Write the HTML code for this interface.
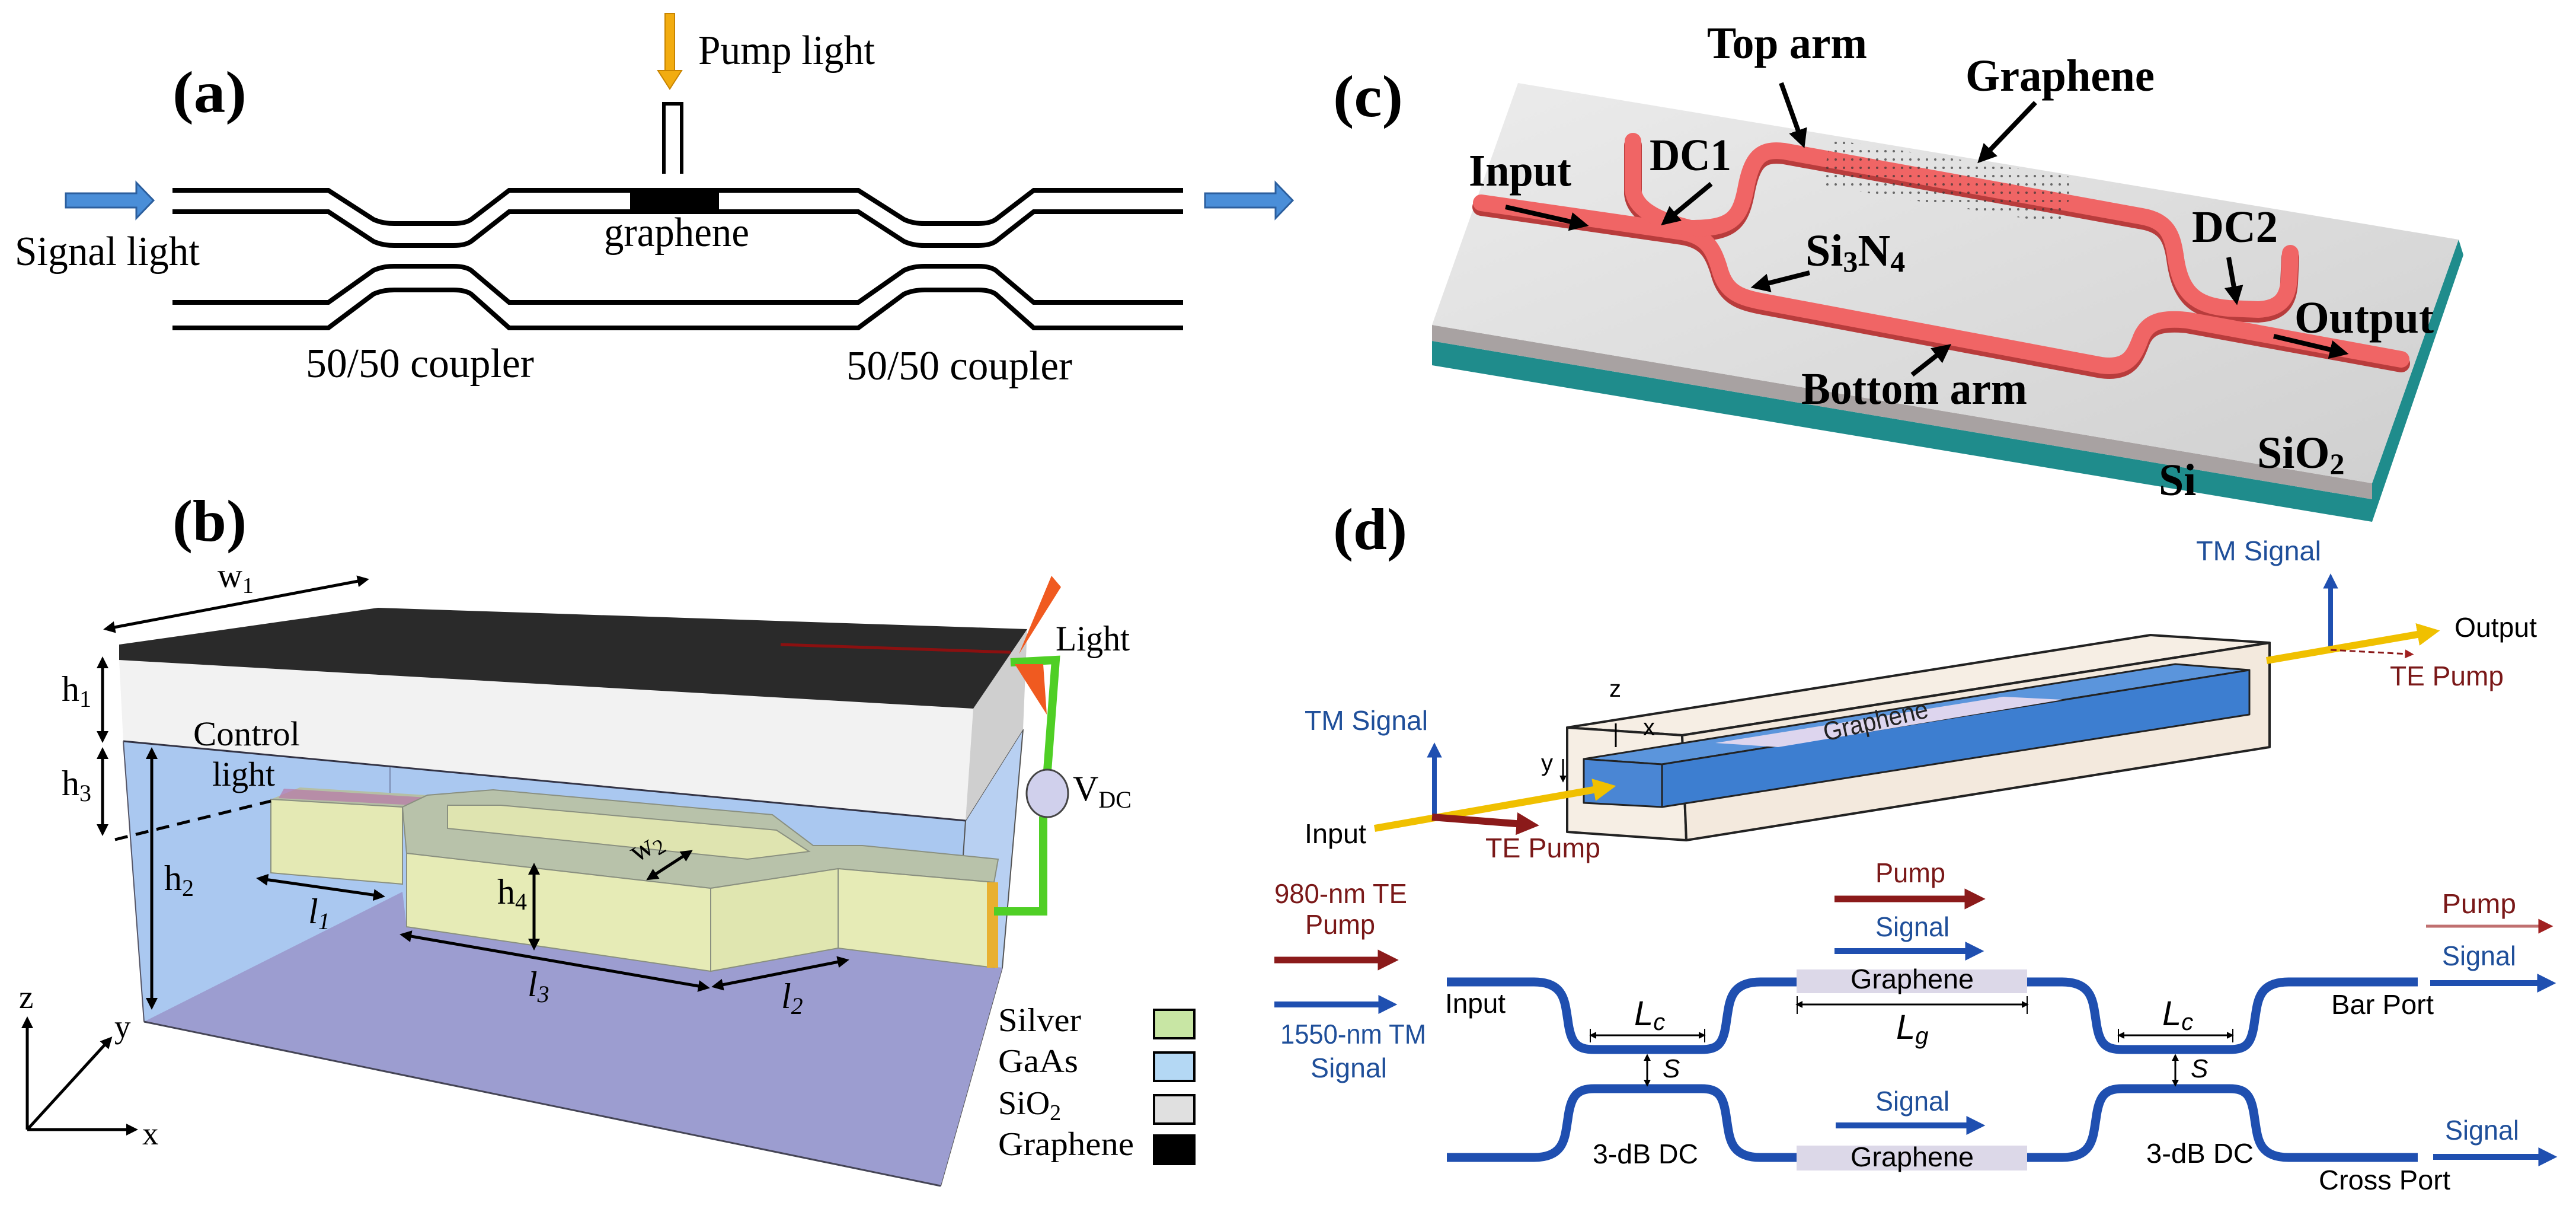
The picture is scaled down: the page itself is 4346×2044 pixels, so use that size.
<!DOCTYPE html>
<html><head><meta charset="utf-8"><style>
html,body{margin:0;padding:0;background:#fff;}
svg{display:block;}
.tr{font-family:"Liberation Serif",serif;}
.sa{font-family:"Liberation Sans",sans-serif;}
</style></head><body>
<svg width="4346" height="2044" viewBox="0 0 4346 2044" xmlns="http://www.w3.org/2000/svg">
<defs>
<marker id="mk" viewBox="0 0 10 10" refX="6" refY="5" markerWidth="4" markerHeight="4" orient="auto-start-reverse"><path d="M0,0 L10,5 L0,10 z" fill="#000"/></marker>
<marker id="mr" viewBox="0 0 10 10" refX="3" refY="5" markerWidth="3.2" markerHeight="3.4" orient="auto"><path d="M0,0 L10,5 L0,10 z" fill="#8b1a1a"/></marker>
<marker id="mb" viewBox="0 0 10 10" refX="3" refY="5" markerWidth="3.2" markerHeight="3.4" orient="auto"><path d="M0,0 L10,5 L0,10 z" fill="#1f4fb0"/></marker>
<marker id="my" viewBox="0 0 10 10" refX="3" refY="5" markerWidth="3.2" markerHeight="3.4" orient="auto"><path d="M0,0 L10,5 L0,10 z" fill="#f0c000"/></marker>
<marker id="mp" viewBox="0 0 10 10" refX="3" refY="5" markerWidth="5" markerHeight="5" orient="auto"><path d="M0,0 L10,5 L0,10 z" fill="#a02020"/></marker>
<pattern id="dots" width="14" height="14" patternUnits="userSpaceOnUse"><circle cx="3" cy="3" r="2" fill="#333"/></pattern>
<linearGradient id="slab" x1="0" y1="0" x2="1" y2="1"><stop offset="0" stop-color="#ececec"/><stop offset="1" stop-color="#cfcfcf"/></linearGradient>
</defs>

<!-- ============ PANEL (a) ============ -->
<text class="tr" x="291" y="189" font-size="100" font-weight="bold" textLength="125" lengthAdjust="spacingAndGlyphs">(a)</text>
<rect x="1122" y="23" width="16" height="98" fill="#f2ac10" stroke="#c88400" stroke-width="2"/>
<polygon points="1110,119 1150,119 1130,150" fill="#f2ac10" stroke="#c88400" stroke-width="2"/>
<text class="tr" x="1178" y="108" font-size="70" textLength="298" lengthAdjust="spacingAndGlyphs">Pump light</text>
<path d="M1120,293 L1120,175 L1150,175 L1150,293" fill="#fff" stroke="#000" stroke-width="6"/>
<g fill="none" stroke="#000" stroke-width="8">
<path d="M291,321 L554,321 L630,370 Q645,377 665,377 L765,377 Q785,377 795,370 L859,321 L1448,321 L1525,370 Q1540,377 1560,377 L1650,377 Q1670,377 1680,370 L1744,321 L1996,321"/>
<path d="M291,357 L554,357 L630,407 Q645,414 665,414 L765,414 Q785,414 795,407 L859,357 L1448,357 L1525,407 Q1540,414 1560,414 L1650,414 Q1670,414 1680,407 L1744,357 L1996,357"/>
<path d="M291,510 L554,510 L630,456 Q645,449 665,449 L765,449 Q785,449 795,456 L859,510 L1448,510 L1525,456 Q1540,449 1560,449 L1650,449 Q1670,449 1680,456 L1744,510 L1996,510"/>
<path d="M291,553 L554,553 L630,496 Q645,489 665,489 L765,489 Q785,489 795,496 L859,553 L1448,553 L1525,496 Q1540,489 1560,489 L1650,489 Q1670,489 1680,496 L1744,553 L1996,553"/>
</g>
<rect x="1063" y="318" width="150" height="42" fill="#000"/>
<polygon points="111,326 230,326 230,308 259,338 230,368 230,350 111,350" fill="#4a8ed8" stroke="#2c5f9e" stroke-width="3"/>
<polygon points="2033,326 2152,326 2152,308 2181,338 2152,368 2152,350 2033,350" fill="#4a8ed8" stroke="#2c5f9e" stroke-width="3"/>
<text class="tr" x="25" y="447" font-size="70" textLength="312" lengthAdjust="spacingAndGlyphs">Signal light</text>
<text class="tr" x="1019" y="415" font-size="70" textLength="245" lengthAdjust="spacingAndGlyphs">graphene</text>
<text class="tr" x="516" y="636" font-size="70" textLength="385" lengthAdjust="spacingAndGlyphs">50/50  coupler</text>
<text class="tr" x="1428" y="640" font-size="70" textLength="381" lengthAdjust="spacingAndGlyphs">50/50  coupler</text>

<!-- ============ PANEL (b) ============ -->
<text class="tr" x="291" y="912" font-size="100" font-weight="bold" textLength="125" lengthAdjust="spacingAndGlyphs">(b)</text>
<line x1="182" y1="1060" x2="615" y2="978" stroke="#000" stroke-width="5" marker-start="url(#mk)" marker-end="url(#mk)"/>
<text class="tr" x="367" y="990" font-size="58">w<tspan font-size="38" dy="10">1</tspan></text>
<!-- floor and blue -->
<polygon points="208,1250 1629,1384 1587,2000 243,1723" fill="#aac8f0"/>
<polygon points="1629,1384 1726,1230 1691,1632 1587,2000" fill="#b8d0f2" stroke="#555" stroke-width="2"/>
<polygon points="243,1723 679,1504 686,1563 1199,1638 1413,1600 1691,1632 1587,2000" fill="#9c9dd0"/>
<line x1="658" y1="1292" x2="658" y2="1362" stroke="#7a8ab0" stroke-width="2"/>
<!-- SiO2 -->
<polygon points="201,1113 1642,1195 1629,1384 208,1250" fill="#f2f2f2"/>
<polygon points="1642,1195 1733,1061 1726,1230 1629,1384" fill="#cfcfcf"/>
<polygon points="201,1087 638,1025 1733,1061 1642,1195 201,1113" fill="#2a2a2a"/>
<line x1="1317" y1="1087" x2="1705" y2="1100" stroke="#8b1010" stroke-width="5"/>
<line x1="208" y1="1250" x2="1629" y2="1384" stroke="#334" stroke-width="3"/>
<!-- silver -->
<polygon points="506,1328 721,1341 679,1361 457,1348" fill="#b5bfa5"/>
<polygon points="457,1348 679,1361 679,1491 457,1472" fill="#e4e9b4" stroke="#8a9080" stroke-width="2"/>
<polygon points="479,1330 720,1345 700,1358 470,1346" fill="#b878a8" opacity="0.7"/>
<polygon points="679,1361 721,1341 832,1332 1303,1374 1372,1426 1455,1426 1684,1449 1677,1488 1414,1465 1199,1498 686,1439" fill="#b8c2aa" stroke="#8a9080" stroke-width="2"/>
<polygon points="755,1358 845,1358 1310,1400 1365,1436 1261,1449 755,1397" fill="#dfe4b0" stroke="#8a9080" stroke-width="2"/>
<polygon points="686,1439 1199,1498 1199,1638 686,1563" fill="#e6ebb6" stroke="#8a9080" stroke-width="2"/>
<polygon points="1199,1498 1414,1465 1414,1599 1199,1638" fill="#e0e6b0" stroke="#8a9080" stroke-width="2"/>
<polygon points="1414,1465 1677,1488 1677,1632 1414,1599" fill="#e6ebb6" stroke="#8a9080" stroke-width="2"/>
<polygon points="1665,1488 1684,1488 1684,1632 1665,1632" fill="#e8b030"/>
<line x1="243" y1="1723" x2="208" y2="1250" stroke="#556" stroke-width="2"/>
<line x1="243" y1="1723" x2="1587" y2="2000" stroke="#445" stroke-width="3"/>
<!-- green wire -->
<polyline points="1677,1537 1760,1537 1760,1377" fill="none" stroke="#4fcf25" stroke-width="14"/>
<polyline points="1767,1300 1781,1113 1705,1117" fill="none" stroke="#4fcf25" stroke-width="14"/>
<ellipse cx="1767" cy="1338" rx="35" ry="40" fill="#d0d0ec" stroke="#444" stroke-width="3"/>
<polygon points="1719,1103 1774,971 1790,990" fill="#f05a20"/>
<polygon points="1712,1120 1760,1120 1766,1205" fill="#f05a20"/>
<text class="tr" x="1781" y="1097" font-size="60" textLength="125" lengthAdjust="spacingAndGlyphs">Light</text>
<text class="tr" x="1810" y="1350" font-size="60">V<tspan font-size="40" dy="12">DC</tspan></text>
<!-- dims -->
<g stroke="#000" stroke-width="5" marker-start="url(#mk)" marker-end="url(#mk)">
<line x1="173" y1="1115" x2="173" y2="1245"/>
<line x1="173" y1="1268" x2="173" y2="1402"/>
<line x1="256" y1="1268" x2="256" y2="1695"/>
<line x1="440" y1="1482" x2="642" y2="1511"/>
<line x1="901" y1="1463" x2="901" y2="1595"/>
<line x1="1097" y1="1480" x2="1162" y2="1438"/>
<line x1="682" y1="1577" x2="1190" y2="1665"/>
<line x1="1208" y1="1663" x2="1425" y2="1620"/>
</g>
<line x1="194" y1="1416" x2="457" y2="1351" stroke="#000" stroke-width="5" stroke-dasharray="22,14"/>
<text class="tr" x="104" y="1182" font-size="60">h<tspan font-size="40" dy="10">1</tspan></text>
<text class="tr" x="104" y="1341" font-size="60">h<tspan font-size="40" dy="10">3</tspan></text>
<text class="tr" x="277" y="1501" font-size="60">h<tspan font-size="40" dy="10">2</tspan></text>
<text class="tr" x="839" y="1524" font-size="60">h<tspan font-size="40" dy="10">4</tspan></text>
<text class="tr" x="1074" y="1455" font-size="52" transform="rotate(-30 1074 1455)">w<tspan font-size="36" dy="8">2</tspan></text>
<text class="tr" x="520" y="1557" font-size="60" font-style="italic">l<tspan font-size="40" dy="10">1</tspan></text>
<text class="tr" x="890" y="1680" font-size="60" font-style="italic">l<tspan font-size="40" dy="10">3</tspan></text>
<text class="tr" x="1318" y="1700" font-size="60" font-style="italic">l<tspan font-size="40" dy="10">2</tspan></text>
<text class="tr" x="326" y="1257" font-size="58" textLength="180" lengthAdjust="spacingAndGlyphs">Control</text>
<text class="tr" x="358" y="1325" font-size="58" textLength="106" lengthAdjust="spacingAndGlyphs">light</text>
<!-- axes -->
<g stroke="#000" stroke-width="5" fill="none" marker-end="url(#mk)">
<line x1="46" y1="1905" x2="46" y2="1722"/>
<line x1="46" y1="1905" x2="225" y2="1905"/>
<line x1="46" y1="1905" x2="184" y2="1754"/>
</g>
<text class="tr" x="32" y="1700" font-size="55">z</text>
<text class="tr" x="193" y="1750" font-size="55">y</text>
<text class="tr" x="240" y="1930" font-size="55">x</text>
<!-- legend -->
<text class="tr" x="1684" y="1739" font-size="56" textLength="140" lengthAdjust="spacingAndGlyphs">Silver</text>
<text class="tr" x="1684" y="1808" font-size="56" textLength="135" lengthAdjust="spacingAndGlyphs">GaAs</text>
<text class="tr" x="1684" y="1879" font-size="56">SiO<tspan font-size="38" dy="10">2</tspan></text>
<text class="tr" x="1684" y="1948" font-size="56" textLength="229" lengthAdjust="spacingAndGlyphs">Graphene</text>
<rect x="1947" y="1703" width="68" height="48" fill="#c8e6a4" stroke="#000" stroke-width="4"/>
<rect x="1947" y="1775" width="68" height="48" fill="#b4d8f4" stroke="#000" stroke-width="4"/>
<rect x="1947" y="1847" width="68" height="48" fill="#e0e0e0" stroke="#000" stroke-width="4"/>
<rect x="1947" y="1915" width="68" height="48" fill="#000" stroke="#000" stroke-width="4"/>

<!-- ============ PANEL (c) ============ -->
<text class="tr" x="2249" y="196" font-size="100" font-weight="bold" textLength="118" lengthAdjust="spacingAndGlyphs">(c)</text>
<polygon points="2416,575 4002,842 4002,880 2416,616" fill="#1f8c8c"/>
<polygon points="2416,548 4002,815 4002,842 2416,575" fill="#a8a2a2"/>
<polygon points="4002,815 4148,404 4156,430 4002,880" fill="#1f8c8c"/>
<polygon points="2561,140 4148,404 4002,815 2416,548" fill="url(#slab)"/>
<!-- waveguide -->
<g fill="none" stroke-linecap="round" stroke-linejoin="round">
<g stroke="#b83c3c" stroke-width="30" transform="translate(0,7)">
<path d="M2499,342 L2838,391 C2880,398 2890,420 2900,450 C2910,490 2930,500 2970,508 L3545,616 C3590,622 3600,600 3610,575 C3620,545 3640,535 3690,540 L4051,606"/>
<path d="M2852,385 C2920,385 2935,370 2945,320 C2955,265 2970,250 3010,255 L3614,365 C3655,372 3665,395 3670,430 C3678,490 3700,515 3760,520 L3810,522 C3850,520 3860,500 3862,470 L3864,427"/>
<path d="M2755,238 L2755,320 C2758,350 2790,370 2852,385"/>
</g>
<g stroke="#f06565" stroke-width="28">
<path d="M2499,342 L2838,391 C2880,398 2890,420 2900,450 C2910,490 2930,500 2970,508 L3545,616 C3590,622 3600,600 3610,575 C3620,545 3640,535 3690,540 L4051,606"/>
<path d="M2852,385 C2920,385 2935,370 2945,320 C2955,265 2970,250 3010,255 L3614,365 C3655,372 3665,395 3670,430 C3678,490 3700,515 3760,520 L3810,522 C3850,520 3860,500 3862,470 L3864,427"/>
<path d="M2755,238 L2755,320 C2758,350 2790,370 2852,385"/>
</g>
</g>
<polygon points="3088,235 3504,300 3476,378 3074,313" fill="url(#dots)" opacity="0.7"/>
<g stroke="#000" stroke-width="8" marker-end="url(#mk)">
<line x1="3005" y1="140" x2="3040" y2="238"/>
<line x1="3434" y1="173" x2="3345" y2="266"/>
<line x1="2887" y1="310" x2="2812" y2="372"/>
<line x1="2540" y1="349" x2="2668" y2="378"/>
<line x1="3053" y1="460" x2="2966" y2="482"/>
<line x1="3760" y1="434" x2="3772" y2="502"/>
<line x1="3836" y1="567" x2="3950" y2="594"/>
<line x1="3226" y1="632" x2="3282" y2="588"/>
</g>
<g class="tr" font-weight="bold" font-size="76">
<text x="2880" y="98" textLength="270" lengthAdjust="spacingAndGlyphs">Top arm</text>
<text x="3316" y="153" textLength="319" lengthAdjust="spacingAndGlyphs">Graphene</text>
<text x="2783" y="287" textLength="138" lengthAdjust="spacingAndGlyphs">DC1</text>
<text x="2478" y="313" textLength="173" lengthAdjust="spacingAndGlyphs">Input</text>
<text x="3046" y="448">Si<tspan font-size="50" dy="10">3</tspan><tspan dy="-10">N</tspan><tspan font-size="50" dy="10">4</tspan></text>
<text x="3698" y="408" textLength="145" lengthAdjust="spacingAndGlyphs">DC2</text>
<text x="3871" y="561" textLength="235" lengthAdjust="spacingAndGlyphs">Output</text>
<text x="3039" y="681" textLength="381" lengthAdjust="spacingAndGlyphs">Bottom arm</text>
<text x="3808" y="789">SiO<tspan font-size="50" dy="10">2</tspan></text>
<text x="3642" y="835">Si</text>
</g>

<!-- ============ PANEL (d) ============ -->
<text class="tr" x="2249" y="926" font-size="100" font-weight="bold" textLength="125" lengthAdjust="spacingAndGlyphs">(d)</text>
<g class="sa" font-size="46">
<text x="3705" y="945" fill="#1f4f9a" textLength="211" lengthAdjust="spacingAndGlyphs">TM Signal</text>
<text x="4141" y="1074" fill="#000" textLength="139" lengthAdjust="spacingAndGlyphs">Output</text>
<text x="4032" y="1156" fill="#7a1818" textLength="192" lengthAdjust="spacingAndGlyphs">TE Pump</text>
<text x="2201" y="1231" fill="#1f4f9a" textLength="208" lengthAdjust="spacingAndGlyphs">TM Signal</text>
<text x="2201" y="1422" fill="#000" textLength="104" lengthAdjust="spacingAndGlyphs">Input</text>
<text x="2506" y="1446" fill="#7a1818" textLength="194" lengthAdjust="spacingAndGlyphs">TE Pump</text>
</g>
<!-- box -->
<g stroke="#222" stroke-width="4" stroke-linejoin="round">
<polygon points="2644,1227 3628,1071 3829,1084 2838,1240" fill="#f6eee4"/>
<polygon points="2644,1227 2838,1240 2845,1417 2644,1403" fill="#f6eee4"/>
<polygon points="2838,1240 3829,1084 3829,1260 2845,1417" fill="#f3e9dd"/>
<polygon points="2672,1280 3670,1120 3795,1130 2804,1289" fill="#5b95dc" stroke-width="3"/>
<polygon points="2804,1289 3795,1130 3795,1205 2804,1361" fill="#3d7ed0" stroke-width="3"/>
<polygon points="2672,1280 2804,1289 2804,1361 2672,1354" fill="#4a86d4" stroke-width="3"/>
</g>
<polygon points="2894,1253 3380,1175 3480,1180 3000,1260" fill="#ddd5ee"/>
<text class="sa" x="3080" y="1250" font-size="44" fill="#222" transform="rotate(-13 3080 1250)" textLength="180" lengthAdjust="spacingAndGlyphs">Graphene</text>
<text class="sa" x="2715" y="1175" font-size="40">z</text>
<text class="sa" x="2772" y="1240" font-size="40">x</text>
<text class="sa" x="2600" y="1300" font-size="40">y</text>
<line x1="2726" y1="1220" x2="2726" y2="1260" stroke="#000" stroke-width="3"/>
<line x1="2637" y1="1280" x2="2637" y2="1315" stroke="#000" stroke-width="3" marker-end="url(#mk)"/>
<!-- input arrows -->
<line x1="2420" y1="1378" x2="2420" y2="1270" stroke="#1f4fb0" stroke-width="8" marker-end="url(#mb)"/>
<line x1="2319" y1="1397" x2="2700" y2="1330" stroke="#f0c000" stroke-width="12" marker-end="url(#my)"/>
<line x1="2416" y1="1378" x2="2570" y2="1390" stroke="#8b1a1a" stroke-width="12" marker-end="url(#mr)"/>
<!-- output arrows -->
<line x1="3932" y1="1094" x2="3932" y2="985" stroke="#1f4fb0" stroke-width="8" marker-end="url(#mb)"/>
<line x1="3824" y1="1114" x2="4090" y2="1068" stroke="#f0c000" stroke-width="12" marker-end="url(#my)"/>
<line x1="3932" y1="1096" x2="4062" y2="1103" stroke="#8b1a1a" stroke-width="3" stroke-dasharray="10,6" marker-end="url(#mp)"/>

<!-- MZI bottom -->
<g class="sa" font-size="46">
<text x="2150" y="1523" fill="#7a1818" textLength="224" lengthAdjust="spacingAndGlyphs">980-nm TE</text>
<text x="2202" y="1575" fill="#7a1818" textLength="118" lengthAdjust="spacingAndGlyphs">Pump</text>
<text x="2160" y="1760" fill="#1f4f9a" textLength="246" lengthAdjust="spacingAndGlyphs">1550-nm TM</text>
<text x="2211" y="1817" fill="#1f4f9a" textLength="129" lengthAdjust="spacingAndGlyphs">Signal</text>
</g>
<line x1="2150" y1="1619" x2="2335" y2="1619" stroke="#8b1a1a" stroke-width="11" marker-end="url(#mr)"/>
<line x1="2150" y1="1694" x2="2335" y2="1694" stroke="#1f4fb0" stroke-width="10" marker-end="url(#mb)"/>
<g fill="none" stroke="#1f4fb0" stroke-width="15">
<path d="M2441,1656 L2588,1656 C2640,1656 2640,1690 2645,1720 C2650,1760 2660,1770 2690,1770 L2870,1770 C2900,1770 2908,1760 2913,1720 C2918,1690 2918,1656 2970,1656 L3031,1656"/>
<path d="M2441,1952 L2588,1952 C2640,1952 2640,1918 2645,1888 C2650,1848 2660,1836 2690,1836 L2870,1836 C2900,1836 2908,1848 2913,1888 C2918,1918 2918,1952 2970,1952 L3031,1952"/>
<path d="M3420,1656 L3479,1656 C3531,1656 3531,1690 3536,1720 C3541,1760 3551,1770 3581,1770 L3761,1770 C3791,1770 3799,1760 3804,1720 C3809,1690 3809,1656 3861,1656 L4079,1656"/>
<path d="M3420,1952 L3479,1952 C3531,1952 3531,1918 3536,1888 C3541,1848 3551,1836 3581,1836 L3761,1836 C3791,1836 3799,1848 3804,1888 C3809,1918 3809,1952 3861,1952 L4079,1952"/>
</g>
<rect x="3031" y="1635" width="389" height="40" fill="#dcd8e8"/>
<rect x="3031" y="1932" width="389" height="42" fill="#dcd8e8"/>
<g class="sa" font-size="46" fill="#000">
<text x="3122" y="1667" textLength="208" lengthAdjust="spacingAndGlyphs">Graphene</text>
<text x="3122" y="1967" textLength="208" lengthAdjust="spacingAndGlyphs">Graphene</text>
<text x="2438" y="1708" textLength="102" lengthAdjust="spacingAndGlyphs">Input</text>
<text x="2687" y="1962" textLength="178" lengthAdjust="spacingAndGlyphs">3-dB DC</text>
<text x="3621" y="1961" textLength="181" lengthAdjust="spacingAndGlyphs">3-dB DC</text>
<text x="3933" y="1710" textLength="173" lengthAdjust="spacingAndGlyphs">Bar Port</text>
<text x="3912" y="2006" textLength="222" lengthAdjust="spacingAndGlyphs">Cross Port</text>
<text x="2757" y="1729" font-size="58" font-style="italic">L<tspan font-size="40" dy="8">c</tspan></text>
<text x="3648" y="1729" font-size="58" font-style="italic">L<tspan font-size="40" dy="8">c</tspan></text>
<text x="3199" y="1752" font-size="58" font-style="italic">L<tspan font-size="40" dy="8">g</tspan></text>
<text x="2805" y="1817" font-size="44" font-style="italic">S</text>
<text x="3696" y="1817" font-size="44" font-style="italic">S</text>
</g>
<g stroke="#000" stroke-width="3" marker-start="url(#mk)" marker-end="url(#mk)">
<line x1="2686" y1="1746" x2="2873" y2="1746"/>
<line x1="3577" y1="1746" x2="3764" y2="1746"/>
<line x1="3034" y1="1694" x2="3418" y2="1694"/>
<line x1="2779" y1="1782" x2="2779" y2="1828"/>
<line x1="3670" y1="1782" x2="3670" y2="1828"/>
</g>
<g stroke="#000" stroke-width="2">
<line x1="2683" y1="1735" x2="2683" y2="1758"/><line x1="2876" y1="1735" x2="2876" y2="1758"/>
<line x1="3574" y1="1735" x2="3574" y2="1758"/><line x1="3767" y1="1735" x2="3767" y2="1758"/>
<line x1="3032" y1="1680" x2="3032" y2="1710"/><line x1="3420" y1="1680" x2="3420" y2="1710"/>
</g>
<!-- middle arrows -->
<g class="sa" font-size="46">
<text x="3164" y="1488" fill="#7a1818" textLength="118" lengthAdjust="spacingAndGlyphs">Pump</text>
<text x="3164" y="1579" fill="#1f4f9a" textLength="125" lengthAdjust="spacingAndGlyphs">Signal</text>
<text x="3164" y="1873" fill="#1f4f9a" textLength="125" lengthAdjust="spacingAndGlyphs">Signal</text>
<text x="4120" y="1540" fill="#7a1818" textLength="125" lengthAdjust="spacingAndGlyphs">Pump</text>
<text x="4120" y="1628" fill="#1f4f9a" textLength="125" lengthAdjust="spacingAndGlyphs">Signal</text>
<text x="4125" y="1922" fill="#1f4f9a" textLength="125" lengthAdjust="spacingAndGlyphs">Signal</text>
</g>
<line x1="3095" y1="1516" x2="3325" y2="1516" stroke="#8b1a1a" stroke-width="11" marker-end="url(#mr)"/>
<line x1="3095" y1="1604" x2="3325" y2="1604" stroke="#1f4fb0" stroke-width="10" marker-end="url(#mb)"/>
<line x1="3097" y1="1898" x2="3327" y2="1898" stroke="#1f4fb0" stroke-width="10" marker-end="url(#mb)"/>
<line x1="4093" y1="1562" x2="4290" y2="1562" stroke="#c07070" stroke-width="5" marker-end="url(#mp)"/>
<line x1="4100" y1="1658" x2="4290" y2="1658" stroke="#1f4fb0" stroke-width="10" marker-end="url(#mb)"/>
<line x1="4105" y1="1951" x2="4292" y2="1951" stroke="#1f4fb0" stroke-width="10" marker-end="url(#mb)"/>
</svg>
</body></html>
